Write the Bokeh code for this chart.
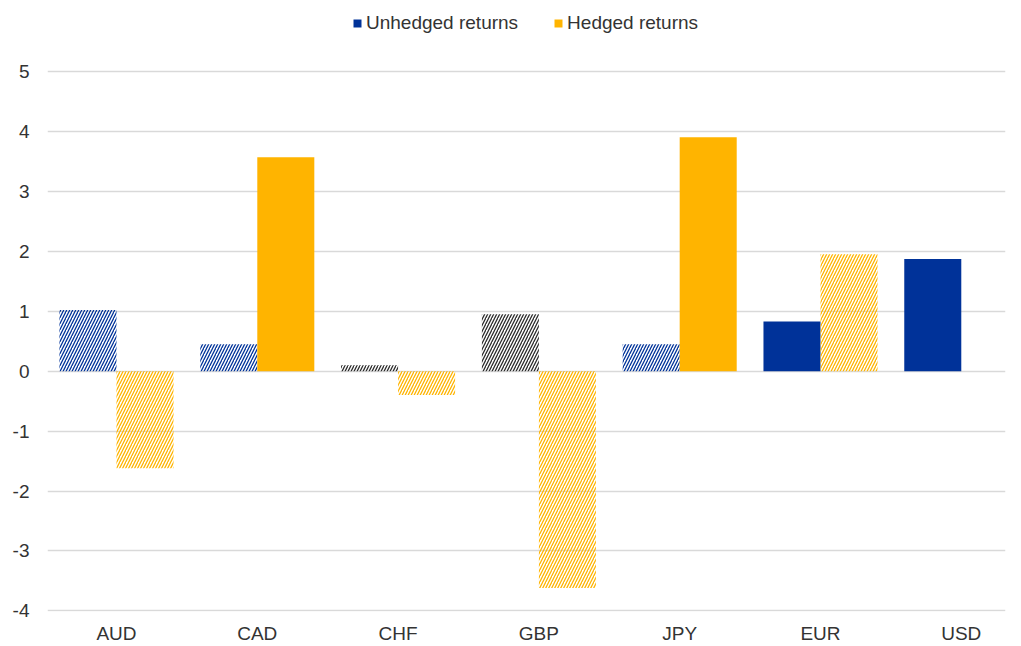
from bokeh.plotting import figure
from bokeh.models import ColumnDataSource, Range1d, Legend, LegendItem, FixedTicker
from bokeh.transform import dodge
from bokeh.embed import file_html
from bokeh.resources import INLINE

categories = ["AUD", "CAD", "CHF", "GBP", "JPY", "EUR", "USD"]
unhedged = [1.02, 0.45, 0.10, 0.95, 0.45, 0.83, 1.87]
hedged = [-1.62, 3.57, -0.40, -3.62, 3.90, 1.95, 0.0]
y_ticks = [-4, -3, -2, -1, 0, 1, 2, 3, 4, 5]

# presentation: hatched (not significant) vs solid bars
unhedged_style = ["hatch", "hatch", "dark", "dark", "hatch", "solid", "solid"]
hedged_style = ["hatch", "solid", "hatch", "hatch", "solid", "hatch", "solid"]

BLUE = "#003299"
YELLOW = "#FFB400"
DARK = "#2b2b2b"
FONT = "Liberation Sans"
TEXT = "#333333"


def style_cols(styles, color):
    fill_alpha, hatch_pat, hatch_col = [], [], []
    for s in styles:
        if s == "solid":
            fill_alpha.append(1.0)
            hatch_pat.append(" ")
            hatch_col.append(color)
        else:
            fill_alpha.append(0.0)
            hatch_pat.append("/")
            hatch_col.append(DARK if s == "dark" else color)
    return fill_alpha, hatch_pat, hatch_col


idx = list(range(len(categories)))
ua, up, uc = style_cols(unhedged_style, BLUE)
ha, hp, hc = style_cols(hedged_style, YELLOW)

src_u = ColumnDataSource(dict(x=idx, top=unhedged, fa=ua, hp=up, hc=uc))
src_h = ColumnDataSource(dict(x=idx, top=hedged, fa=ha, hp=hp, hc=hc))

# frame spans the full height so the legend (top) sits inside it
p = figure(width=1021, height=646, output_backend="svg", toolbar_location=None,
           x_range=Range1d(-0.49, 6.314), y_range=Range1d(-4.01, 6.183),
           min_border_left=47, min_border_right=16, min_border_top=0,
           min_border_bottom=0)
p.outline_line_color = None
p.background_fill_color = "white"

bw = 0.405
ru = p.vbar(x=dodge("x", -bw / 2), top="top", bottom=0, width=bw, source=src_u,
            fill_color=BLUE, fill_alpha="fa", line_color=None,
            hatch_pattern="hp", hatch_color="hc", hatch_scale=6, hatch_weight=1.3)
rh = p.vbar(x=dodge("x", bw / 2), top="top", bottom=0, width=bw, source=src_h,
            fill_color=YELLOW, fill_alpha="fa", line_color=None,
            hatch_pattern="hp", hatch_color="hc", hatch_scale=6, hatch_weight=1.3)

# legend swatches taken from a solid bar of each series
legend = Legend(items=[LegendItem(label="Unhedged returns", renderers=[ru],
                                  index=unhedged_style.index("solid")),
                       LegendItem(label="Hedged returns", renderers=[rh],
                                  index=hedged_style.index("solid"))],
                orientation="horizontal", location=(305, 577),
                padding=0, margin=0, spacing=35, label_standoff=4,
                glyph_width=10, glyph_height=10,
                label_text_font=FONT, label_text_font_size="19px",
                label_text_color=TEXT, border_line_color=None,
                background_fill_alpha=0)
p.add_layout(legend, "center")

p.xgrid.grid_line_color = None
p.ygrid.grid_line_color = "#d9d9d9"
p.ygrid.grid_line_width = 1.4

p.yaxis.ticker = FixedTicker(ticks=y_ticks)
p.yaxis.major_label_overrides = {t: str(t) for t in y_ticks}
p.xaxis.ticker = FixedTicker(ticks=idx)
p.xaxis.major_label_overrides = {i: c for i, c in enumerate(categories)}
for ax in (p.xaxis[0], p.yaxis[0]):
    ax.axis_line_color = None
    ax.major_tick_line_color = None
    ax.minor_tick_line_color = None
    ax.major_tick_out = 0
    ax.major_tick_in = 0
    ax.minor_tick_out = 0
    ax.minor_tick_in = 0
    ax.major_label_text_font = FONT
    ax.major_label_text_font_size = "19px"
    ax.major_label_text_color = TEXT
p.yaxis.major_label_standoff = 18
p.xaxis.major_label_standoff = 11

open("out.html", "w").write(file_html(p, INLINE))
